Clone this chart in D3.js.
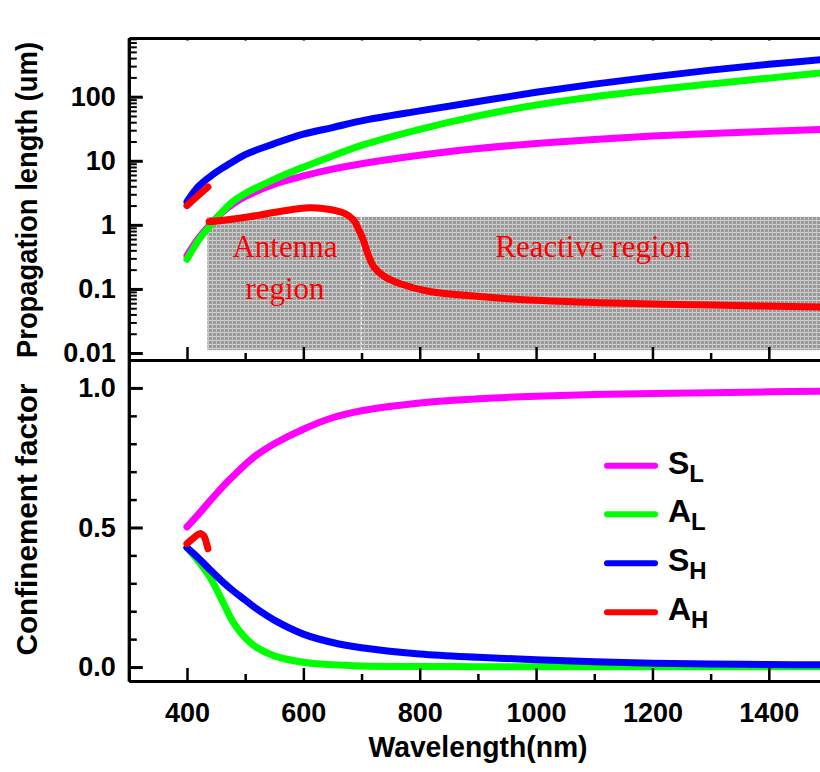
<!DOCTYPE html>
<html>
<head>
<meta charset="utf-8">
<script src="https://cdn.jsdelivr.net/npm/d3@7/dist/d3.min.js"></script>
<style>
  html, body { margin: 0; padding: 0; background: #fff; }
  svg { display: block; }
  .tick text { font-family: "Liberation Sans", Arial, sans-serif; font-weight: bold; font-size: 27px; fill: #000; }
  .axis path, .axis line { stroke: #000; }
</style>
</head>
<body>
<svg id="chart" width="820" height="772"></svg>
<script>
// ---- data -------------------------------------------------------------
const seriesNames = ["S", "A", "S", "A"];
const seriesSubs = ["L", "L", "H", "H"];
const seriesColors = ["#ff00ff", "#00ff00", "#0000ff", "#ff0000"];

// propagation length (um) on a common wavelength grid (nm)
const lenWL = [400, 420, 440, 460, 480, 500, 550, 600, 650, 700, 800, 900, 1000, 1100, 1200, 1300, 1400, 1500];
const lenSL = [0.33, 0.62, 1.02, 1.55, 2.15, 2.75, 4.3, 5.8, 7.4, 9.0, 12.2, 15.5, 18.6, 21.5, 24.3, 26.6, 28.8, 31.0];
const lenAL = [0.29, 0.58, 0.98, 1.58, 2.35, 3.09, 5.13, 7.94, 11.9, 17.4, 30.9, 50.1, 74.1, 100, 127, 158, 195, 240];
const lenSH = [2.3, 4.0, 5.7, 7.6, 9.8, 12.5, 18.5, 26, 33, 42, 60, 84, 117, 157, 204, 260, 320, 385];
// A_H branch: short upper piece and the main branch
const lenAHshortWL = [400, 418, 436];
const lenAHshort = [2.0, 2.8, 3.9];
const lenAHWL = [438, 470, 510, 560, 611, 646, 670, 686, 695, 703, 712, 722, 740, 764, 817, 903, 989, 1110, 1300, 1500];
const lenAH = [1.12, 1.2, 1.35, 1.62, 1.85, 1.74, 1.52, 1.2, 0.85, 0.58, 0.33, 0.215, 0.155, 0.123, 0.091, 0.076, 0.067, 0.061, 0.056, 0.052];

// confinement factor
const confWL = [400, 420, 440, 460, 480, 500, 520, 550, 600, 650, 700, 800, 900, 1000, 1100, 1200, 1300, 1400, 1500];
const confSL = [0.502, 0.548, 0.596, 0.643, 0.685, 0.725, 0.76, 0.80, 0.852, 0.893, 0.918, 0.946, 0.961, 0.970, 0.976, 0.980, 0.983, 0.986, 0.988];
const confAL = [0.428, 0.378, 0.32, 0.24, 0.158, 0.105, 0.07, 0.04, 0.017, 0.008, 0.004, 0.002, 0.0015, 0.001, 0.001, 0.001, 0.001, 0.001, 0.001];
const confSH = [0.428, 0.39, 0.348, 0.308, 0.272, 0.24, 0.208, 0.168, 0.118, 0.088, 0.069, 0.047, 0.035, 0.026, 0.019, 0.014, 0.011, 0.009, 0.008];
const confAHWL = [400, 410, 418, 424, 429, 432, 434, 436];
const confAH = [0.442, 0.46, 0.474, 0.478, 0.47, 0.455, 0.44, 0.424];

// shaded region bounds (wavelength nm, length um) and divider
const regionWL = [435, 1500];
const regionLen = [0.0111, 1.34];
const regionDivider = 700;
const regionLabels = [["Antenna", "region"], ["Reactive region"]];

// ticks
const xMajor = [400, 600, 800, 1000, 1200, 1400];
const xMinor = [300, 500, 700, 900, 1100, 1300, 1500];
const yTopMajor = [0.01, 0.1, 1, 10, 100];
const yTopLabels = ["0.01", "0.1", "1", "10", "100"];
const yBotMajor = [0, 0.5, 1.0];
const yBotMinor = [0.1, 0.2, 0.3, 0.4, 0.6, 0.7, 0.8, 0.9];

// ---- layout -----------------------------------------------------------
const svg = d3.select("#chart");
const L = 128.8, R = 827, T = 38, MID = 360, B = 681;
const FONT = '"Liberation Sans", Arial, sans-serif';
const SERIF = '"Liberation Serif", "Times New Roman", serif';

const x = d3.scaleLinear().domain([300, 1500]).range([L, R]);
const yTop = d3.scaleLog().domain([Math.pow(10, -2.109), Math.pow(10, 2.916)]).range([MID, T]);
const yBot = d3.scaleLinear().domain([-0.05, 1.1]).range([B, MID]);

const defs = svg.append("defs");
defs.append("clipPath").attr("id", "clipTop").append("rect")
  .attr("x", L).attr("y", T).attr("width", R - L).attr("height", MID - T);
defs.append("clipPath").attr("id", "clipBot").append("rect")
  .attr("x", L).attr("y", MID).attr("width", R - L).attr("height", B - MID);

// halftone-like gray fill
const pat = defs.append("pattern").attr("id", "halftone")
  .attr("patternUnits", "userSpaceOnUse").attr("width", 4).attr("height", 4);
pat.append("rect").attr("width", 4).attr("height", 4).attr("fill", "#9a9a9a");
pat.append("rect").attr("width", 4).attr("height", 1).attr("fill", "#d2d2d2");
pat.append("rect").attr("width", 1).attr("height", 4).attr("fill", "#c4c4c4");

// ---- top panel: shaded region ------------------------------------------
const topG = svg.append("g").attr("clip-path", "url(#clipTop)");
topG.append("rect")
  .attr("x", x(regionWL[0])).attr("y", yTop(regionLen[1]))
  .attr("width", x(regionWL[1]) - x(regionWL[0]))
  .attr("height", yTop(regionLen[0]) - yTop(regionLen[1]))
  .attr("fill", "url(#halftone)");
topG.append("line")
  .attr("x1", x(regionDivider)).attr("x2", x(regionDivider))
  .attr("y1", yTop(regionLen[1])).attr("y2", yTop(regionLen[0]))
  .attr("stroke", "#f4f4f4").attr("stroke-width", 1).attr("stroke-dasharray", "3,2");

// region labels
const regionLabelPos = [
  { cx: 285, base: [257, 299] },
  { cx: 593, base: [257] }
];
regionLabels.forEach((lines, i) => {
  lines.forEach((t, j) => {
    topG.append("text")
      .attr("x", regionLabelPos[i].cx).attr("y", regionLabelPos[i].base[j])
      .attr("text-anchor", "middle")
      .attr("font-family", SERIF).attr("font-size", 31)
      .attr("fill", "#ff0000").text(t);
  });
});

// ---- top panel: curves --------------------------------------------------
const curve = d3.curveCatmullRom.alpha(0.5);
const lineTop = d3.line().x(d => x(d[0])).y(d => yTop(d[1])).curve(curve);
const lineBot = d3.line().x(d => x(d[0])).y(d => yBot(d[1])).curve(curve);
const zip = (a, b) => a.map((v, i) => [v, b[i]]);

const topSeries = [
  { d: zip(lenWL, lenSL), c: seriesColors[0] },
  { d: zip(lenWL, lenAL), c: seriesColors[1] },
  { d: zip(lenWL, lenSH), c: seriesColors[2] },
  { d: zip(lenAHshortWL, lenAHshort), c: seriesColors[3] },
  { d: zip(lenAHWL, lenAH), c: seriesColors[3] }
];
topSeries.forEach(s => {
  topG.append("path").attr("d", lineTop(s.d))
    .attr("fill", "none").attr("stroke", s.c).attr("stroke-width", 7)
    .attr("stroke-linecap", "round").attr("stroke-linejoin", "round");
});

// ---- bottom panel: curves -----------------------------------------------
const botG = svg.append("g").attr("clip-path", "url(#clipBot)");
const botSeries = [
  { d: zip(confWL, confSL), c: seriesColors[0] },
  { d: zip(confWL, confAL), c: seriesColors[1] },
  { d: zip(confWL, confSH), c: seriesColors[2] },
  { d: zip(confAHWL, confAH), c: seriesColors[3] }
];
botSeries.forEach(s => {
  botG.append("path").attr("d", lineBot(s.d))
    .attr("fill", "none").attr("stroke", s.c).attr("stroke-width", 7)
    .attr("stroke-linecap", "round").attr("stroke-linejoin", "round");
});

// ---- axes ---------------------------------------------------------------
function styleAxis(g, w) {
  g.attr("class", "axis");
  g.select(".domain").attr("stroke-width", 3);
  g.selectAll(".tick line").attr("stroke-width", w || 2.5);
}

// top panel left axis (log)
const yTopMinor = [];
[0.01, 0.1, 1, 10, 100].forEach(dec => { for (let k = 2; k <= 9; k++) { const v = dec * k; if (v <= yTop.domain()[1]) yTopMinor.push(v); } });
svg.append("g").attr("transform", `translate(${L},0)`)
  .call(d3.axisLeft(yTop).tickValues(yTopMinor).tickSize(-8).tickSizeOuter(0).tickFormat(""))
  .call(g => styleAxis(g, 2));
svg.append("g").attr("transform", `translate(${L},0)`)
  .call(d3.axisLeft(yTop).tickValues(yTopMajor).tickSize(-14).tickSizeOuter(0).tickPadding(13)
    .tickFormat((d, i) => yTopLabels[i]))
  .call(g => styleAxis(g, 3));

// bottom panel left axis
svg.append("g").attr("transform", `translate(${L},0)`)
  .call(d3.axisLeft(yBot).tickValues(yBotMinor).tickSize(-8).tickSizeOuter(0).tickFormat(""))
  .call(g => styleAxis(g, 2.5));
svg.append("g").attr("transform", `translate(${L},0)`)
  .call(d3.axisLeft(yBot).tickValues(yBotMajor).tickSize(-14).tickSizeOuter(0).tickPadding(13)
    .tickFormat(d3.format(".1f")))
  .call(g => styleAxis(g, 3));

// top border of the upper panel
svg.append("g").attr("transform", `translate(0,${T})`)
  .call(d3.axisTop(x).tickValues(xMajor.concat(xMinor)).tickSize(-2.5).tickSizeOuter(0).tickFormat(""))
  .call(g => styleAxis(g, 2.5));

// shared line between panels (ticks pointing up into upper panel)
svg.append("g").attr("transform", `translate(0,${MID})`)
  .call(d3.axisBottom(x).tickValues(xMinor).tickSize(-7).tickSizeOuter(0).tickFormat(""))
  .call(g => styleAxis(g, 2.5));
svg.append("g").attr("transform", `translate(0,${MID})`)
  .call(d3.axisBottom(x).tickValues(xMajor).tickSize(-13).tickSizeOuter(0).tickFormat(""))
  .call(g => styleAxis(g, 2.5));

// bottom x axis with labels
svg.append("g").attr("transform", `translate(0,${B})`)
  .call(d3.axisBottom(x).tickValues(xMinor).tickSize(-7).tickSizeOuter(0).tickFormat(""))
  .call(g => styleAxis(g, 2.5));
svg.append("g").attr("transform", `translate(0,${B})`)
  .call(d3.axisBottom(x).tickValues(xMajor).tickSize(-13).tickSizeOuter(0).tickPadding(22)
    .tickFormat(d3.format("d")))
  .call(g => styleAxis(g, 2.5));

// ---- axis titles --------------------------------------------------------
svg.append("text")
  .attr("transform", `translate(37,${(T + MID) / 2 + 1}) rotate(-90)`)
  .attr("text-anchor", "middle").attr("font-family", FONT).attr("font-weight", "bold")
  .attr("font-size", 29).attr("textLength", 316).attr("lengthAdjust", "spacingAndGlyphs")
  .text("Propagation length (um)");
svg.append("text")
  .attr("transform", `translate(37,${(MID + B) / 2 - 1}) rotate(-90)`)
  .attr("text-anchor", "middle").attr("font-family", FONT).attr("font-weight", "bold")
  .attr("font-size", 29).attr("textLength", 272).attr("lengthAdjust", "spacingAndGlyphs")
  .text("Confinement factor");
svg.append("text")
  .attr("x", 478).attr("y", 757)
  .attr("text-anchor", "middle").attr("font-family", FONT).attr("font-weight", "bold")
  .attr("font-size", 29).attr("textLength", 219).attr("lengthAdjust", "spacingAndGlyphs")
  .text("Wavelength(nm)");

// ---- legend -------------------------------------------------------------
const legY = [465.7, 514.3, 563.3, 612.3];
seriesNames.forEach((n, i) => {
  const g = svg.append("g").attr("transform", `translate(607,${legY[i]})`);
  g.append("line").attr("x1", 0).attr("x2", 48).attr("y1", 0).attr("y2", 0)
    .attr("stroke", seriesColors[i]).attr("stroke-width", 6).attr("stroke-linecap", "round");
  const t = g.append("text").attr("x", 61).attr("y", 8)
    .attr("font-family", FONT).attr("font-weight", "bold").attr("font-size", 32);
  t.append("tspan").text(n);
  t.append("tspan").attr("dy", 8).attr("font-size", 24).text(seriesSubs[i]);
});
</script>
</body>
</html>
